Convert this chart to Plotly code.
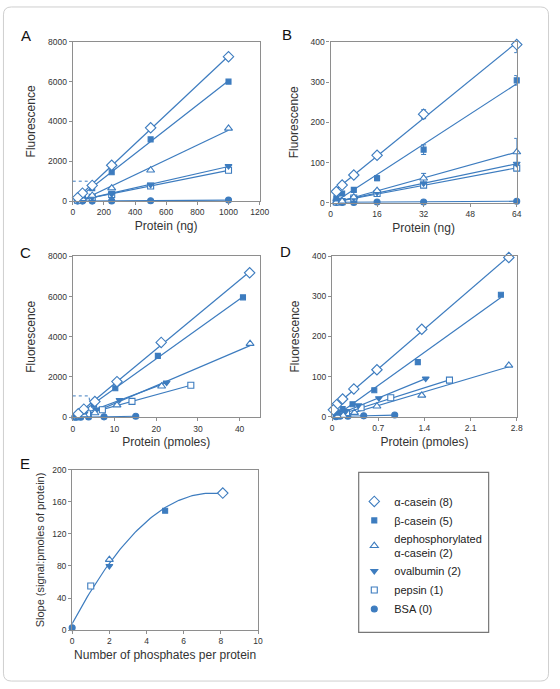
import numpy as np
import plotly.graph_objects as go

# series (number of phosphates in brackets)
names = ["α-casein (8)", "β-casein (5)", "dephosphorylated<br>α-casein (2)",
         "ovalbumin (2)", "pepsin (1)", "BSA (0)"]

# panel A: protein (ng) vs fluorescence
A_x = [[1000, 500, 250, 125, 62.5, 31.25]] * 6
A_y = [[7250, 3680, 1800, 790, 400, 170],
       [6000, 3100, 1450, 650, 300, 150],
       [3650, 1550, 650, 280, 120, 60],
       [1760, 820, 350, 180, 80, 40],
       [1550, 760, 330, 190, 80, 40],
       [50, 20, 10, 0, 0, 0]]

# panel B: low range, ng, with error bars
B_x = [[2, 4, 8, 16, 32, 64]] * 6
B_y = [[28, 44, 69, 118, 220, 393],
       [11, 23, 32, 61, 132, 304],
       [2, 4, 14, 30, 61, 126],
       [3, 5, 12, 25, 48, 97],
       [2, 3, 12, 23, 44, 86],
       [1, 1, 1, 2, 2, 4]]
B_err = [[4, 6, 3, 4, 11, 20],
         [2, 3, 3, 6, 12, 12],
         [0, 0, 0, 2, 12, 34],
         [0, 0, 0, 0, 0, 0],
         [0, 0, 0, 0, 0, 0],
         [0, 0, 0, 0, 0, 0]]

# panel C: protein (pmoles)
C_x = [[42.4, 21.2, 10.6, 5.3, 2.65, 1.32],
       [40.8, 20.4, 10.2, 5.1, 2.55, 1.28],
       [42.5, 21.3, 10.6, 5.3, 2.65, 1.33],
       [22.5, 11.2, 5.6, 2.8, 1.4, 0.7],
       [28.3, 14.2, 7.1, 3.55, 1.78, 0.89],
       [15.1, 7.5, 3.8, 1.9, 0.94, 0.47]]
C_y = [[7180, 3720, 1770, 780, 400, 170],
       [5960, 3050, 1440, 620, 300, 150],
       [3660, 1540, 600, 210, 110, 60],
       [1720, 860, 380, 180, 80, 40],
       [1590, 790, 370, 170, 80, 40],
       [50, 20, 10, 0, 0, 0]]

# panel D: low range, pmoles
D_x = [[2.68, 1.36, 0.68, 0.33, 0.16, 0.07, 0.02],
       [2.56, 1.30, 0.64, 0.31, 0.16, 0.08],
       [2.68, 1.36, 0.68, 0.34, 0.17, 0.085],
       [1.42, 0.71, 0.40, 0.20, 0.10],
       [1.78, 0.89, 0.44, 0.22, 0.11],
       [0.95, 0.48, 0.24, 0.12, 0.06]]
D_y = [[397, 218, 117, 69, 44, 30, 17],
       [304, 136, 66, 31, 19, 10],
       [128, 53, 26, 10, 3, 1],
       [95, 46, 28, 12, 6],
       [91, 47, 22, 10, 4],
       [4, 2, 1, 1, 0]]

# panel E: slope vs phosphates per protein
E_phos = [8.1, 5, 2, 2, 1, 0]
E_slope = [171, 149, 88, 80, 55, 3]

BLUE = "#3d7cbf"
AXC = "#8e8e8e"
FONT = "Liberation Sans, Arial, sans-serif"
W, H = 560, 689

symbols = ["diamond", "square", "triangle-up", "triangle-down", "square", "circle"]
fills = ["white", BLUE, "white", BLUE, "white", BLUE]
sizes = [8, 5, 7, 6, 6, 6]


def px(x):
    return x / W


def py(y):
    return 1 - y / H


fig = go.Figure()

panels = [("x", "y", A_x, A_y, None),
          ("x2", "y2", B_x, B_y, B_err),
          ("x3", "y3", C_x, C_y, None),
          ("x4", "y4", D_x, D_y, None)]

for k, (xa, ya, xs_all, ys_all, errs) in enumerate(panels):
    # fitted lines
    for i in range(6):
        xs, ys = np.array(xs_all[i]), np.array(ys_all[i])
        m, b = np.polyfit(xs, ys, 1)
        xx = np.array([xs.min(), xs.max()])
        fig.add_trace(go.Scatter(x=xx, y=m * xx + b, mode="lines", xaxis=xa, yaxis=ya,
                                 line=dict(color=BLUE, width=1.2), showlegend=False,
                                 hoverinfo="skip"))
    for i in range(5, -1, -1):
        err = None
        if errs is not None and any(errs[i]):
            err = dict(type="data", array=errs[i], color=BLUE, thickness=1, width=2.5)
        fig.add_trace(go.Scatter(
            x=xs_all[i], y=ys_all[i], mode="markers", xaxis=xa, yaxis=ya,
            name=names[i], legendrank=i + 1, showlegend=(k == 0), error_y=err,
            cliponaxis=False,
            marker=dict(symbol=symbols[i], size=sizes[i], color=fills[i],
                        line=dict(color=BLUE, width=1.1))))

# panel E curve (quadratic fit) and points
coef = np.polyfit(E_phos, E_slope, 2)
xx = np.linspace(0, max(E_phos), 80)
fig.add_trace(go.Scatter(x=xx, y=np.polyval(coef, xx), mode="lines", xaxis="x5", yaxis="y5",
                         line=dict(color=BLUE, width=1.2), showlegend=False, hoverinfo="skip"))
for i in range(5, -1, -1):
    fig.add_trace(go.Scatter(
        x=[E_phos[i]], y=[E_slope[i]], mode="markers", xaxis="x5", yaxis="y5",
        showlegend=False, cliponaxis=False,
        marker=dict(symbol=symbols[i], size=sizes[i], color=fills[i],
                    line=dict(color=BLUE, width=1.1))))

ax = dict(showline=True, linecolor=AXC, linewidth=1.2, mirror=True, ticks="outside",
          ticklen=3, tickcolor=AXC, tickfont=dict(size=8.5, color="#333"),
          showgrid=False, zeroline=False)
xt = dict(font=dict(size=12, color="#333"), standoff=5)
yt = dict(font=dict(size=12, color="#333"), standoff=9)

fig.update_layout(
    width=W, height=H, margin=dict(l=0, r=0, t=0, b=0),
    paper_bgcolor="white", plot_bgcolor="white",
    font=dict(family=FONT, color="#222"),
    xaxis=dict(ax, domain=[px(72.3), px(263.3)], range=[0, 1200], dtick=200,
               title=dict(xt, text="Protein (ng)"), anchor="y"),
    yaxis=dict(ax, domain=[py(199), py(37.3)], range=[0, 8000], dtick=2000,
               title=dict(yt, text="Fluorescence"), anchor="x"),
    xaxis2=dict(ax, domain=[px(335.7), px(526)], range=[0, 64], dtick=16,
                title=dict(xt, text="Protein (ng)"), anchor="y2"),
    yaxis2=dict(ax, domain=[py(200.7), py(37.3)], range=[0, 400], dtick=100,
                title=dict(yt, text="Fluorescence"), anchor="x2"),
    xaxis3=dict(ax, domain=[px(72.3), px(263.3)], range=[0, 44.8], dtick=10,
                title=dict(xt, text="Protein (pmoles)"), anchor="y3"),
    yaxis3=dict(ax, domain=[py(418.3), py(255)], range=[0, 8000], dtick=2000,
                title=dict(yt, text="Fluorescence"), anchor="x3"),
    xaxis4=dict(ax, domain=[px(337.3), px(526)], range=[0, 2.8], dtick=0.7,
                title=dict(xt, text="Protein (pmoles)"), anchor="y4"),
    yaxis4=dict(ax, domain=[py(417.7), py(255)], range=[0, 400], dtick=100,
                title=dict(yt, text="Fluorescence"), anchor="x4"),
    xaxis5=dict(ax, domain=[px(71.7), px(261.7)], range=[0, 10], dtick=2,
                title=dict(xt, text="Number of phosphates per protein"), anchor="y5"),
    yaxis5=dict(ax, domain=[py(634.3), py(471.7)], range=[0, 200], dtick=40,
                title=dict(font=dict(size=11, color="#333"), standoff=5,
                           text="Slope (signal:pmoles of protein)"), anchor="x5"),
    legend=dict(x=px(360), y=py(489), xanchor="left", yanchor="top",
                font=dict(size=11, color="#222"), bgcolor="rgba(0,0,0,0)",
                borderwidth=0, tracegroupgap=3, itemwidth=30),
)

# panel letters
for letter, x, y in [("A", 25, 31), ("B", 291, 30), ("C", 24, 251), ("D", 290, 250), ("E", 23, 465)]:
    fig.add_annotation(text=letter, x=px(x), y=py(y), xref="paper", yref="paper",
                       xanchor="center", yanchor="middle",
                       showarrow=False, font=dict(size=15, color="#111"))

shapes = [
    # legend frame
    dict(type="rect", xref="paper", yref="paper", x0=px(364.5), x1=px(497.3),
         y0=py(636.7), y1=py(474.3), line=dict(color="#777", width=1.2)),
    # dotted zoom guides
    dict(type="path", xref="x", yref="y", path="M 0,1000 L 95,1000 L 100,820",
         line=dict(color=BLUE, width=1, dash="dot")),
    dict(type="path", xref="x3", yref="y3", path="M 0,1060 L 3.9,1060 L 4.1,600",
         line=dict(color=BLUE, width=1, dash="dot")),
]
# outer rounded border
r = 8
x0, x1, y0, y1 = 1.5, 558.5, 2, 686
pts = [("M", x0 + r, y0), ("L", x1 - r, y0), ("Q", x1, y0, x1, y0 + r), ("L", x1, y1 - r),
       ("Q", x1, y1, x1 - r, y1), ("L", x0 + r, y1), ("Q", x0, y1, x0, y1 - r),
       ("L", x0, y0 + r), ("Q", x0, y0, x0 + r, y0)]
path = ""
for p in pts:
    cmd, coords = p[0], p[1:]
    parts = ["%.5f,%.5f" % (px(coords[j]), py(coords[j + 1])) for j in range(0, len(coords), 2)]
    path += cmd + " " + " ".join(parts) + " "
shapes.append(dict(type="path", xref="paper", yref="paper", path=path + "Z",
                   line=dict(color="#cfcfcf", width=1)))
fig.update_layout(shapes=shapes)

# drop page margin/scrollbars so the 560x689 figure fills the window exactly
page_js = ("document.body.style.margin='0';"
           "document.body.style.overflow='hidden';"
           "document.documentElement.style.overflow='hidden';")
fig.write_html("out.html", config={"displayModeBar": False}, post_script=page_js)
